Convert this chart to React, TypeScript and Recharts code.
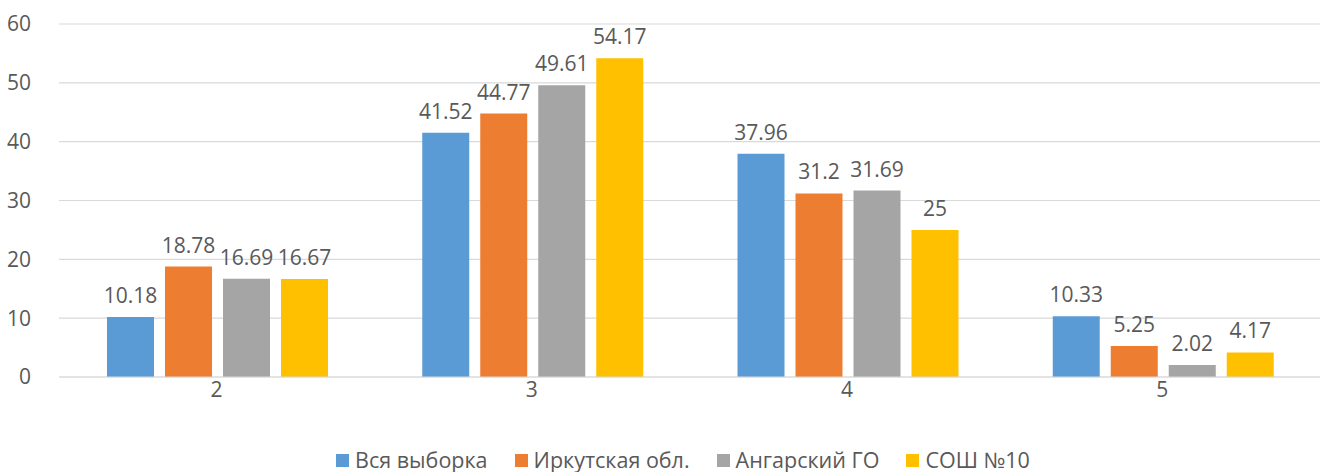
import React from "react"
import { BarChart, Bar, XAxis, YAxis, CartesianGrid, LabelList, Legend } from "recharts"

const categories = ["2", "3", "4", "5"]
const allSample = [10.18, 41.52, 37.96, 10.33]
const irkutsk = [18.78, 44.77, 31.2, 5.25]
const angarsk = [16.69, 49.61, 31.69, 2.02]
const school10 = [16.67, 54.17, 25, 4.17]
const yTicks = [0, 10, 20, 30, 40, 50, 60]

const SERIES = [
  { key: "all", name: "Вся выборка", color: "#5B9BD5", values: allSample },
  { key: "irk", name: "Иркутская обл.", color: "#ED7D31", values: irkutsk },
  { key: "ang", name: "Ангарский ГО", color: "#A5A5A5", values: angarsk },
  { key: "sch", name: "СОШ №10", color: "#FFC000", values: school10 },
]

const data = categories.map((c, i) => {
  const row: Record<string, string | number> = { cat: c }
  SERIES.forEach(s => { row[s.key] = s.values[i] })
  return row
})

const FONT = "'Open Sans', sans-serif"
const TEXT = "#595959"

function LegendRow() {
  return (
    <div style={{ height: 65, display: "flex", alignItems: "flex-end", justifyContent: "center", gap: 27, fontFamily: FONT, fontSize: 21.5, lineHeight: "24px", color: TEXT, paddingLeft: 46, boxSizing: "border-box", paddingBottom: 0 }}>
      {SERIES.map(s => (
        <span key={s.key} style={{ display: "flex", alignItems: "center" }}>
          <span style={{ width: 13, height: 13, background: s.color, display: "inline-block", marginRight: 6 }} />
          {s.name}
        </span>
      ))}
    </div>
  )
}

export default function App() {
  return (
    <div style={{ position: "absolute", left: 0, top: 0, width: 1320, height: 472, background: "#fff" }}>
      <BarChart width={1320} height={472} data={data} margin={{ top: 24, right: 0, left: 0, bottom: 0 }}
        barCategoryGap={48} barGap={11}>
        <CartesianGrid vertical={false} stroke="#D9D9D9" strokeWidth={1.2} />
        <XAxis dataKey="cat" axisLine={{ stroke: "#D9D9D9", strokeWidth: 1.2 }} tickLine={false}
          tick={{ fill: TEXT, fontSize: 21, fontFamily: FONT, dy: -1 }} tickMargin={0} height={30} />
        <YAxis domain={[0, 60]} ticks={yTicks} width={59} axisLine={false} tickLine={false}
          tick={{ fill: TEXT, fontSize: 21, fontFamily: FONT }} tickMargin={22} />
        <Legend verticalAlign="bottom" height={65} content={() => <LegendRow />} wrapperStyle={{ bottom: 0 }} />
        {SERIES.map(s => (
          <Bar key={s.key} dataKey={s.key} name={s.name} fill={s.color} isAnimationActive={false}>
            <LabelList dataKey={s.key} position="top" offset={14} fill={TEXT} fontSize={21} fontFamily={FONT} />
          </Bar>
        ))}
      </BarChart>
    </div>
  )
}
